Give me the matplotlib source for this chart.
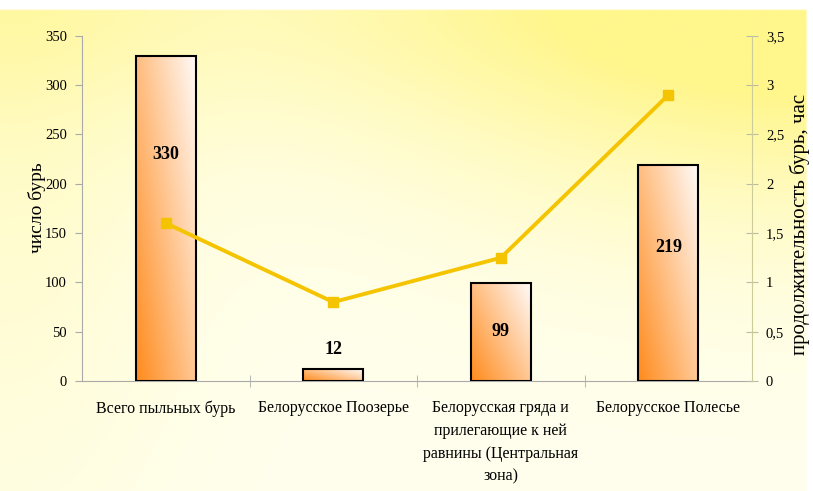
import numpy as np
import matplotlib
matplotlib.use("Agg")
import matplotlib.pyplot as plt
from matplotlib.ticker import FuncFormatter

# data
categories = ["Всего пыльных бурь", "Белорусское Поозерье",
              "Белорусская гряда и\nприлегающие к ней\nравнины (Центральная\nзона)",
              "Белорусское Полесье"]
storm_count = [330, 12, 99, 219]
duration_hours = [1.6, 0.8, 1.25, 2.9]
label_heights = [230, 32, 50, 135]

plt.rcParams['font.family'] = ['Liberation Serif', 'DejaVu Serif']

fig = plt.figure(figsize=(8.13, 4.91), dpi=100)

# background: pale yellow gradient, strongest in the top-right corner
bg = fig.add_axes([0, 0, 1, 1], zorder=-5)
bg.axis('off')
h, w = 200, 330
yy, xx = np.mgrid[0:1:h * 1j, 0:1:w * 1j]   # yy = 0 at top
corner = np.exp(-(((1 - xx) * 1.1) ** 2 + (yy * 1.3) ** 2) / 0.35)
left = 0.45 * np.exp(-(xx ** 2) / 0.05) * (1 - 0.7 * yy)
top = 0.3 * np.exp(-(yy ** 2) / 0.06)
wgt = np.clip(corner + left + top, 0, 1)
pale = np.array([255, 255, 238]) / 255
yellow = np.array([255, 246, 140]) / 255
img = pale * (1 - wgt[..., None]) + yellow * wgt[..., None]
img[:int(h * 0.02), :] = 1.0
img[:, int(w * 0.992):] = 1.0
bg.imshow(img, aspect='auto', extent=[0, 1, 0, 1], origin='upper')
bg.set_xlim(0, 1)
bg.set_ylim(0, 1)

ax = fig.add_axes([0.101, 0.224, 0.824, 0.703])
ax.set_facecolor('none')
x = np.arange(len(categories))
bar_w = 0.36

# bars with orange-to-white diagonal gradient
gy, gx = np.mgrid[0:1:60j, 0:1:30j]
t = np.clip(0.55 * gx + 0.45 * gy, 0, 1)
orange = np.array([255, 140, 30]) / 255
white = np.array([255, 250, 248]) / 255
grad = orange * (1 - t[..., None]) + white * t[..., None]

bars = ax.bar(x, storm_count, width=bar_w, facecolor='none',
              edgecolor='black', linewidth=1.5, zorder=3)
for b in bars:
    x0, y0 = b.get_x(), b.get_y()
    im = ax.imshow(grad, origin='lower', aspect='auto', zorder=2,
                   extent=[x0, x0 + b.get_width(), y0, y0 + b.get_height()])
    im.set_clip_path(b)

for xi, v, hgt in zip(x, storm_count, label_heights):
    ax.text(xi, hgt, str(v), ha='center', va='center', fontsize=13,
            fontweight='bold', zorder=5)

ax.set_xlim(-0.5, 3.5)
ax.set_ylim(0, 350)
ax.set_yticks(range(0, 351, 50))
ax.set_xticks(x)
ax.set_xticklabels(categories, fontsize=11.5, linespacing=1.55, va='top')
ax.tick_params(axis='x', length=0, pad=14)
ax.set_xticks([0.5, 1.5, 2.5], minor=True)
ax.tick_params(axis='x', which='minor', direction='inout', length=8,
               color='#aaaaaa')
ax.tick_params(axis='y', direction='out', length=5, color='#aaaaaa',
               labelsize=10.5, pad=6)
for s in ['top', 'right']:
    ax.spines[s].set_visible(False)
for s in ['left', 'bottom']:
    ax.spines[s].set_color('#aaaaaa')

ax2 = ax.twinx()
ax2.set_ylim(0, 3.5)
ax2.set_yticks(np.arange(0, 3.51, 0.5))
ax2.yaxis.set_major_formatter(FuncFormatter(
    lambda v, p: ('%g' % v).replace('.', ',')))
ax2.tick_params(axis='y', direction='inout', length=8, color='#bbbbaa',
                labelsize=10.5, pad=6)
ax2.plot(x, duration_hours, color='#F5C400', linewidth=2.8, marker='s',
         markersize=7, zorder=6)
for s in ['top', 'left', 'bottom']:
    ax2.spines[s].set_visible(False)
ax2.spines['right'].set_color('#cccc99')

# axis titles
fig.text(37 / 813, 1 - 208 / 491, 'число бурь', rotation=90, fontsize=14,
         ha='center', va='center')
fig.text(800 / 813, 1 - 224 / 491, 'продолжительность бурь, час',
         rotation=90, fontsize=15, ha='center', va='center')

fig.savefig('out.png', dpi=100)
